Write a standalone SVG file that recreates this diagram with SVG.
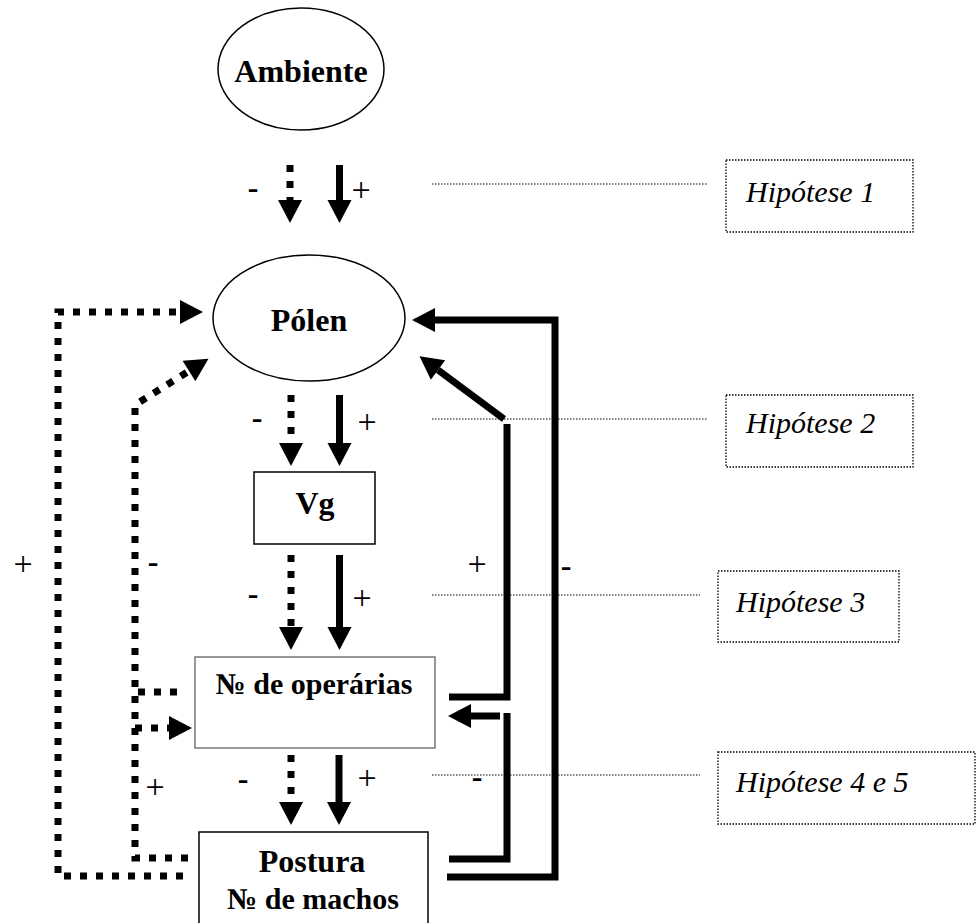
<svg xmlns="http://www.w3.org/2000/svg" width="977" height="923" viewBox="0 0 977 923">
<style>
.lbl{font-family:"Liberation Serif","Times New Roman",serif;font-weight:bold;font-size:32px;fill:#000;text-anchor:middle}
.num{font-size:30px}
.hyp{font-family:"Liberation Serif","Times New Roman",serif;font-style:italic;font-size:30px;fill:#000}
.sign{font-family:"Liberation Serif","Times New Roman",serif;font-size:34px;fill:#000;text-anchor:middle}
.minus{font-family:"Liberation Serif","Times New Roman",serif;font-weight:bold;font-size:32px;fill:#000;text-anchor:middle}
.node{fill:#fff;stroke:#000;stroke-width:1.5}
.hbox{fill:#fff;stroke:#000;stroke-width:1.3;stroke-dasharray:1.5 1.5}
.hline{fill:none;stroke:#000;stroke-width:1.2;stroke-dasharray:1.5 1.5}
.solid{fill:none;stroke:#000;stroke-width:7;stroke-linejoin:miter}
.dot{fill:none;stroke:#000;stroke-width:7;stroke-dasharray:7 9}
</style>
<defs>
<marker id="ah" markerUnits="userSpaceOnUse" markerWidth="24" markerHeight="24" refX="0" refY="12" orient="auto" overflow="visible">
<path d="M0,0 L23,12 L0,24 Z" fill="#000"/>
</marker>
</defs>

<g id="ambiente">
<ellipse class="node" cx="301" cy="69" rx="83" ry="61"/>
<text class="lbl" x="301" y="82">Ambiente</text>
</g>
<g id="polen">
<ellipse class="node" cx="309" cy="318" rx="96" ry="63"/>
<text class="lbl" x="309" y="331">Pólen</text>
</g>
<g id="vg">
<rect class="node" x="254" y="472" width="121" height="72"/>
<text class="lbl" x="315" y="514">Vg</text>
</g>
<g id="operarias">
<rect x="195" y="657" width="240" height="91" fill="#fff" stroke="#777" stroke-width="1.5"/>
<text class="lbl num" x="314" y="694">№ de operárias</text>
</g>
<g id="postura">
<rect class="node" x="199" y="832" width="229" height="95"/>
<text class="lbl" x="312" y="872">Postura</text>
<text class="lbl num" x="313" y="909">№ de machos</text>
</g>

<g id="hipotese1">
<rect class="hbox" x="726" y="160" width="187" height="72"/>
<text class="hyp" x="746" y="202">Hipótese 1</text>
</g>
<g id="hipotese2">
<rect class="hbox" x="726" y="395" width="187" height="72"/>
<text class="hyp" x="746" y="433">Hipótese 2</text>
</g>
<g id="hipotese3">
<rect class="hbox" x="718" y="571" width="181" height="71"/>
<text class="hyp" x="736" y="612">Hipótese 3</text>
</g>
<g id="hipotese45">
<rect class="hbox" x="718" y="752" width="257" height="72"/>
<text class="hyp" x="736" y="792">Hipótese 4 e 5</text>
</g>

<g id="connectors">
<line class="hline" x1="432" y1="184" x2="708" y2="184"/>
<line class="hline" x1="432" y1="419" x2="708" y2="419"/>
<line class="hline" x1="432" y1="595" x2="700" y2="595"/>
<line class="hline" x1="432" y1="775" x2="700" y2="775"/>

<line class="dot" x1="290" y1="165" x2="290" y2="200" marker-end="url(#ah)"/>
<line class="solid" x1="339.5" y1="165" x2="339.5" y2="200" marker-end="url(#ah)"/>
<line class="dot" x1="291" y1="395" x2="291" y2="443" marker-end="url(#ah)"/>
<line class="solid" x1="339.5" y1="395" x2="339.5" y2="443" marker-end="url(#ah)"/>
<line class="dot" x1="291" y1="555" x2="291" y2="627" marker-end="url(#ah)"/>
<line class="solid" x1="339.5" y1="555" x2="339.5" y2="627" marker-end="url(#ah)"/>
<line class="dot" x1="291" y1="755" x2="291" y2="802" marker-end="url(#ah)"/>
<line class="solid" x1="339" y1="755" x2="339" y2="802" marker-end="url(#ah)"/>

<polyline class="dot" points="183,876 58,876 58,312 180,312" marker-end="url(#ah)"/>
<polyline class="dot" points="188,858 135,858 135,405 189,371" marker-end="url(#ah)"/>
<line class="dot" x1="177" y1="692" x2="135" y2="692"/>
<line class="dot" x1="135" y1="728" x2="169" y2="728" marker-end="url(#ah)"/>

<polyline class="solid" points="447,877 555,877 555,320 435,320" marker-end="url(#ah)"/>
<polyline class="solid" points="449,697 507,697 507,424"/>
<line class="solid" x1="504" y1="419" x2="438" y2="370" marker-end="url(#ah)"/>
<polyline class="solid" points="449,859 507,859 507,713"/>
<line class="solid" x1="500" y1="716" x2="471" y2="716" marker-end="url(#ah)"/>
</g>

<g id="signs">
<text class="minus" x="253" y="198">-</text>
<text class="sign" x="361" y="201">+</text>
<text class="minus" x="257" y="428">-</text>
<text class="sign" x="367" y="433">+</text>
<text class="minus" x="253" y="604">-</text>
<text class="sign" x="362" y="609">+</text>
<text class="minus" x="243" y="789">-</text>
<text class="sign" x="367" y="789">+</text>
<text class="sign" x="23" y="575">+</text>
<text class="minus" x="153" y="572">-</text>
<text class="sign" x="155" y="798">+</text>
<text class="sign" x="477" y="575">+</text>
<text class="minus" x="566" y="576">-</text>
<text class="minus" x="477" y="787">-</text>
</g>
</svg>
